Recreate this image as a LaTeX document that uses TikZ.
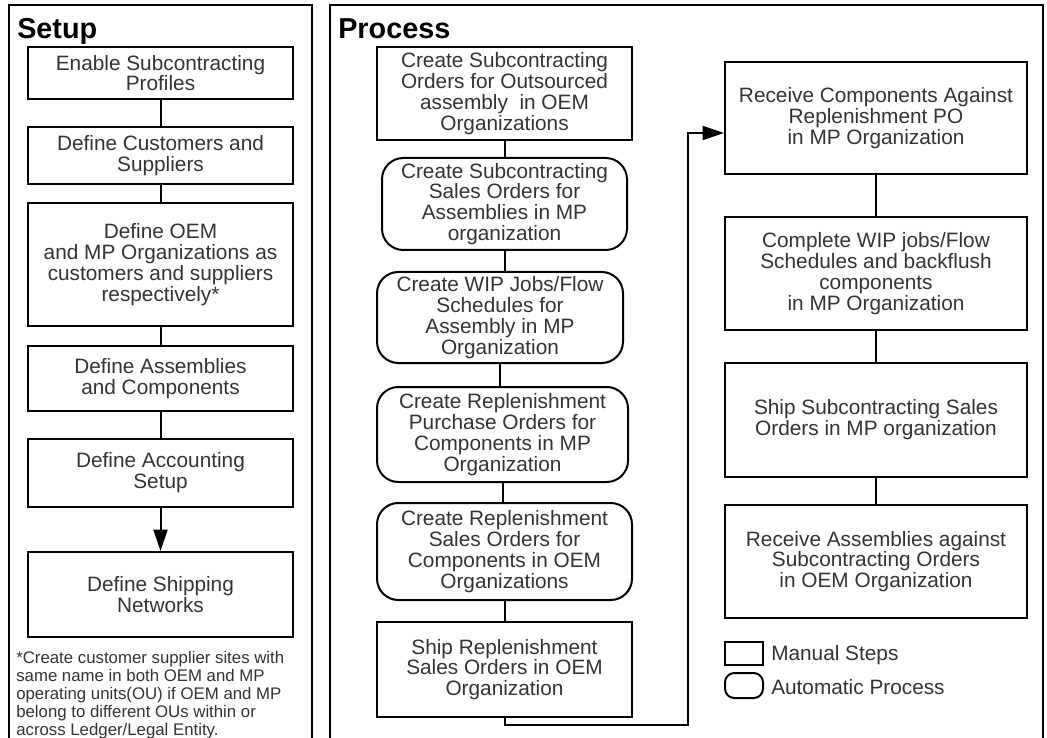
\documentclass[tikz,border=0pt]{standalone}
\usepackage{fontspec}
\setmainfont{Liberation Sans}
\usetikzlibrary{arrows.meta,calc}
\tikzset{
  basebox/.style={draw=black, line width=1.5pt, inner sep=0pt, align=center, text=black!80,
    font=\fontsize{15.6}{15.6}\selectfont},
  manbox/.style={basebox, rectangle},
  autobox/.style={basebox, rectangle, rounded corners=16pt},
  conn/.style={line width=1.5pt, draw=black},
  arr/.style={conn, -{Triangle[length=16pt,width=10.5pt]}},
  frame/.style={line width=1.5pt, draw=black},
  title/.style={anchor=base west, inner sep=0pt, font=\fontsize{21.6}{24}\selectfont\bfseries},
  legtext/.style={anchor=west, inner sep=0pt, text=black!80, font=\fontsize{15.6}{15.6}\selectfont},
}
\newcommand\pbox[7]{\node[#1, minimum width=#5*0.75pt, minimum height=#6*0.75pt] (#2) at (#3,#4) {#7};}
\begin{document}
\begin{tikzpicture}[x=0.75pt,y=-0.75pt]
\useasboundingbox (0,0) rectangle (1047,738);
% frames
\draw[frame] (9,738) -- (9,5) -- (312,5) -- (312,738);
\draw[frame] (330,738) -- (330,5) -- (1043,5) -- (1043,738);
\node[title] (tsetup) at (17,39) {Setup};
\node[title] (tprocess) at (338,39) {Process};
% setup column
\pbox{manbox}{B1}{160.5}{73}{265}{52}{Enable Subcontracting\\Profiles}
\pbox{manbox}{B2}{160.5}{155.5}{265}{57}{Define Customers and\\Suppliers}
\pbox{manbox}{B3}{160.5}{264.5}{265}{123}{Define OEM\\and MP Organizations as\\customers and suppliers\\respectively*}
\pbox{manbox}{B4}{160.5}{378.5}{265}{65}{Define Assemblies\\and Components}
\pbox{manbox}{B5}{160.5}{473}{265}{68}{Define Accounting\\Setup}
\pbox{manbox}{B6}{160.5}{594.5}{265}{85}{Define Shipping\\Networks}
\draw[conn] (B1.south) -- (B2.north);
\draw[conn] (B2.south) -- (B3.north);
\draw[conn] (B3.south) -- (B4.north);
\draw[conn] (B4.south) -- (B5.north);
\draw[arr] (B5.south) -- (B6.north);
\node[anchor=north west, inner sep=0pt, align=left, text=black!80,
  font=\fontsize{12.6}{13.6}\selectfont] (note) at (16,651)
  {*Create customer supplier sites with\\same name in both OEM and MP\\operating units(OU) if OEM and MP\\belong to different OUs within or\\across Ledger/Legal Entity.};
% process left column
\pbox{manbox}{P1}{504.5}{93.5}{255}{93}{Create Subcontracting\\Orders for Outsourced\\assembly\ \ in OEM\\Organizations}
\pbox{autobox}{P2}{504.5}{204}{245}{92}{Create Subcontracting\\Sales Orders for\\Assemblies in MP\\organization}
\pbox{autobox}{P3}{500}{317.5}{246}{91}{Create WIP Jobs/Flow\\Schedules for\\Assembly in MP\\Organization}
\pbox{autobox}{P4}{502.5}{434.5}{251}{95}{Create Replenishment\\Purchase Orders for\\Components in MP\\Organization}
\pbox{autobox}{P5}{504.5}{551.5}{255}{97}{Create Replenishment\\Sales Orders for\\Components in OEM\\Organizations}
\pbox{manbox}{P6}{504.5}{669.5}{255}{95}{Ship Replenishment\\Sales Orders in OEM\\Organization}
\draw[conn] (P1.south) -- (P1.south |- P2.north);
\draw[conn] (P2.south) -- (P2.south |- P3.north);
\draw[conn] (P3.south) -- (P3.south |- P4.north);
\draw[conn] (P4.south) -- (P4.south |- P5.north);
\draw[conn] (P5.south) -- (P5.south |- P6.north);
% process right column
\pbox{manbox}{R1}{876}{118}{302}{112}{Receive Components Against\\Replenishment PO\\in MP Organization}
\pbox{manbox}{R2}{876}{273.5}{302}{113}{Complete WIP jobs/Flow\\Schedules and backflush\\components\\in MP Organization}
\pbox{manbox}{R3}{876}{420}{302}{114}{Ship Subcontracting Sales\\Orders in MP organization}
\pbox{manbox}{R4}{876}{561.5}{302}{113}{Receive Assemblies against\\Subcontracting Orders\\in OEM Organization}
\draw[conn] (R1.south) -- (R2.north);
\draw[conn] (R2.south) -- (R3.north);
\draw[conn] (R3.south) -- (R4.north);
% loop connector
\coordinate (loop) at (688,725);
\draw[arr, line join=miter] (P6.south) |- (loop) |- ($(R1.west)+(0,15)$);
% legend
\pbox{manbox}{L1}{744}{653.5}{38}{23}{}
\node[basebox, rectangle, rounded corners=7pt, minimum width=38*0.75pt, minimum height=25*0.75pt] (L2) at (744,685.5) {};
\node[legtext] (L1t) at (771,655) {Manual Steps};
\node[legtext] (L2t) at (771,687) {Automatic Process};
\end{tikzpicture}
\end{document}
